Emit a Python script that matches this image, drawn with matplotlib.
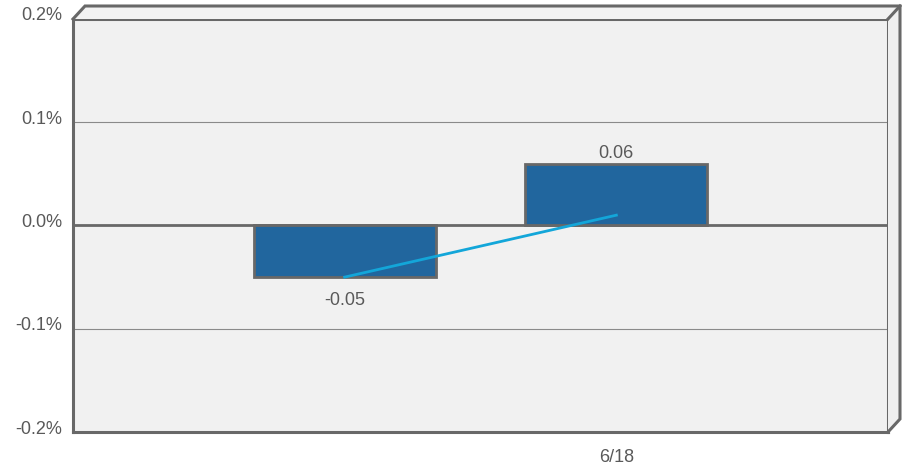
import matplotlib
matplotlib.use("Agg")
import matplotlib.pyplot as plt
import matplotlib.transforms as mtransforms
from matplotlib.lines import Line2D
from matplotlib.patches import Polygon

# data
categories = ["", "6/18"]
bar_values = [-0.05, 0.06]
line_values = [-0.05, 0.01]
bar_labels = ["-0.05", "0.06"]
yticks = [-0.2, -0.1, 0.0, 0.1, 0.2]
ytick_labels = ["-0.2%", "-0.1%", "0.0%", "0.1%", "0.2%"]

plt.rcParams["font.family"] = ["Liberation Sans", "DejaVu Sans"]

W, H = 903, 466
fig = plt.figure(figsize=(W / 100, H / 100), dpi=100)

def fx(px):
    return px / W

def fy(py):
    return 1 - py / H

# front face of the plot box, in pixels
L, R, T, B = 73, 888, 19, 432
dx, dy = 12, -13
frame_col = "#686868"

# 3d top and side faces
top = Polygon([(fx(L), fy(T)), (fx(L + dx), fy(T + dy)), (fx(R + dx), fy(T + dy)), (fx(R), fy(T))],
              closed=True, facecolor="#f2f2f2", edgecolor="none", transform=fig.transFigure)
side = Polygon([(fx(R), fy(T)), (fx(R + dx), fy(T + dy)), (fx(R + dx), fy(B + dy)), (fx(R), fy(B))],
               closed=True, facecolor="#efefef", edgecolor="none", transform=fig.transFigure)
fig.add_artist(top)
fig.add_artist(side)
for xs, ys in [
    ([L, L + dx, R + dx, R + dx, R], [T, T + dy, T + dy, B + dy, B]),
    ([R, R + dx], [T, T + dy]),
]:
    fig.add_artist(Line2D([fx(x) for x in xs], [fy(y) for y in ys], color=frame_col,
                          lw=2.2, transform=fig.transFigure, solid_joinstyle="miter"))

ax = fig.add_axes([fx(L), fy(B), (R - L) / W, (B - T) / H])
ax.set_facecolor("#f1f1f1")

x = list(range(len(categories)))
ax.set_xlim(-1, 2)
ax.set_ylim(-0.2, 0.2)

for yv in [0.1, -0.1]:
    ax.axhline(yv, color="#8a8a8a", lw=0.8, zorder=1)
ax.axhline(0, color=frame_col, lw=2, zorder=1)

ax.bar(x, bar_values, width=0.67, color="#21669e", edgecolor=frame_col, linewidth=2, zorder=3)
ax.plot(x, line_values, color="#13a6d9", lw=2, zorder=4)

for xi, v, lab in zip(x, bar_values, bar_labels):
    if v < 0:
        ax.annotate(lab, (xi, v), xytext=(0, -11), textcoords="offset points",
                    ha="center", va="top", fontsize=13, color="#595959")
    else:
        ax.annotate(lab, (xi, v), xytext=(0, 1), textcoords="offset points",
                    ha="center", va="bottom", fontsize=13, color="#595959")

ax.set_xticks(x)
ax.set_xticklabels(categories, fontsize=13, color="#595959")
ax.set_yticks(yticks)
ax.set_yticklabels(ytick_labels, fontsize=13, color="#595959")
ax.tick_params(length=0, pad=8)
ax.tick_params(axis="x", pad=12)

# y labels sit a little above their gridlines
shift = mtransforms.ScaledTranslation(0, 5 / 100, fig.dpi_scale_trans)
for t in ax.get_yticklabels():
    t.set_transform(t.get_transform() + shift)

for s in ax.spines.values():
    s.set_color(frame_col)
    s.set_linewidth(2.2)

fig.savefig("out.png", dpi=100)
